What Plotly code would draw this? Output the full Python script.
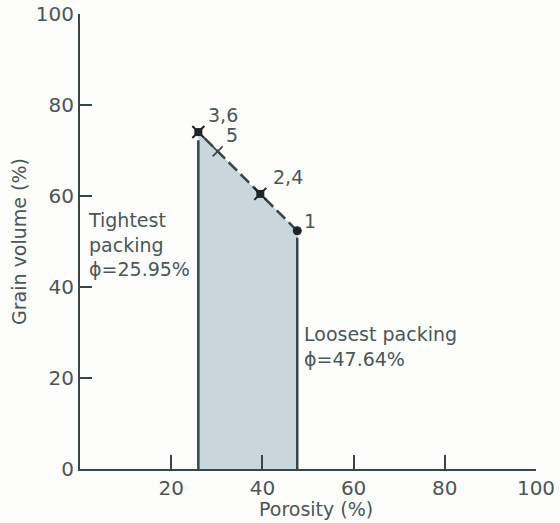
import plotly.graph_objects as go

# Sphere packings: porosity vs grain volume
point_labels = ["1", "2,4", "5", "3,6"]
porosity = [47.64, 39.54, 30.19, 25.95]
grain_volume = [52.36, 60.46, 69.81, 74.05]

x_ticks = [20, 40, 60, 80, 100]
y_ticks = [0, 20, 40, 60, 80, 100]

ink = "#36464a"
txt = "#4a5658"
fill = "#c9d6dc"
font_family = "DejaVu Sans"

loose_x, loose_y = porosity[0], grain_volume[0]
tight_x, tight_y = porosity[-1], grain_volume[-1]

fig = go.Figure()

# shaded region between tightest and loosest packing
fig.add_trace(go.Scatter(
    x=[tight_x] + porosity[::-1] + [loose_x],
    y=[0] + grain_volume[::-1] + [0],
    fill="toself", fillcolor=fill, mode="none", hoverinfo="skip",
))

# vertical bounds
fig.add_trace(go.Scatter(x=[tight_x, tight_x], y=[0, tight_y - 1.8], mode="lines",
                         line=dict(color=ink, width=2.5), hoverinfo="skip"))
fig.add_trace(go.Scatter(x=[loose_x, loose_x], y=[0, loose_y - 1.5], mode="lines",
                         line=dict(color=ink, width=2.5), hoverinfo="skip"))

# dashed upper edge
fig.add_trace(go.Scatter(x=porosity, y=grain_volume, mode="lines",
                         line=dict(color=ink, width=2.5, dash="12px,5px"), hoverinfo="skip"))

# markers
fig.add_trace(go.Scatter(x=[porosity[0]], y=[grain_volume[0]], mode="markers",
                         marker=dict(symbol="circle", size=9, color="#1e2628")))
fig.add_trace(go.Scatter(x=[porosity[1], porosity[3]], y=[grain_volume[1], grain_volume[3]],
                         mode="markers", marker=dict(symbol="square", size=8, color="#1e2628")))
fig.add_trace(go.Scatter(x=[porosity[1], porosity[3]], y=[grain_volume[1], grain_volume[3]],
                         mode="markers", marker=dict(symbol="x-thin", size=12,
                                                      line=dict(color="#1e2628", width=2))))
fig.add_trace(go.Scatter(x=[porosity[2]], y=[grain_volume[2]], mode="markers",
                         marker=dict(symbol="x-thin", size=10, line=dict(color=ink, width=1.6))))

# point labels
offsets = {"1": (5, 10), "2,4": (11, 17), "5": (6, 16), "3,6": (8, 17)}
for lab, px, py in zip(point_labels, porosity, grain_volume):
    dx, dy = offsets[lab]
    fig.add_annotation(x=px, y=py, text=lab, showarrow=False, xanchor="left", yanchor="middle",
                       xshift=dx, yshift=dy, font=dict(size=19, color=txt, family=font_family))

fig.add_annotation(x=1.3, y=57.5, xref="x", yref="y", text="Tightest<br>packing<br>\u03d5=25.95%",
                   showarrow=False, xanchor="left", yanchor="top", align="left",
                   font=dict(size=19, color=txt, family=font_family))
fig.add_annotation(x=48.7, y=32.5, xref="x", yref="y", text="Loosest packing<br>\u03d5=47.64%",
                   showarrow=False, xanchor="left", yanchor="top", align="left",
                   font=dict(size=19, color=txt, family=font_family))

# x-axis title
fig.add_annotation(x=0.5, y=0, xref="paper", yref="paper", text="Porosity (%)",
                   showarrow=False, xanchor="center", yanchor="middle", xshift=8, yshift=-40,
                   font=dict(size=19, color=txt, family=font_family))

fig.update_layout(
    width=560, height=523,
    margin=dict(l=80, r=24, t=14, b=54),
    paper_bgcolor="#fdfdfc", plot_bgcolor="#fdfdfc",
    showlegend=False,
    font=dict(family=font_family, color=txt),
    xaxis=dict(range=[0, 100], tickvals=x_ticks, ticks="inside", ticklen=14, tickwidth=2,
               tickcolor=ink, showline=True, linecolor=ink, linewidth=2, showgrid=False,
               zeroline=False, tickfont=dict(size=20, color=txt), automargin=False),
    yaxis=dict(range=[0, 100], tickvals=y_ticks, ticks="inside", ticklen=12, tickwidth=2,
               tickcolor=ink, showline=True, linecolor=ink, linewidth=2, showgrid=False,
               zeroline=False, tickfont=dict(size=20, color=txt), automargin=False,
               title=dict(text="Grain volume (%)", font=dict(size=19, color=txt), standoff=4)),
)

fig.write_html("out.html")
